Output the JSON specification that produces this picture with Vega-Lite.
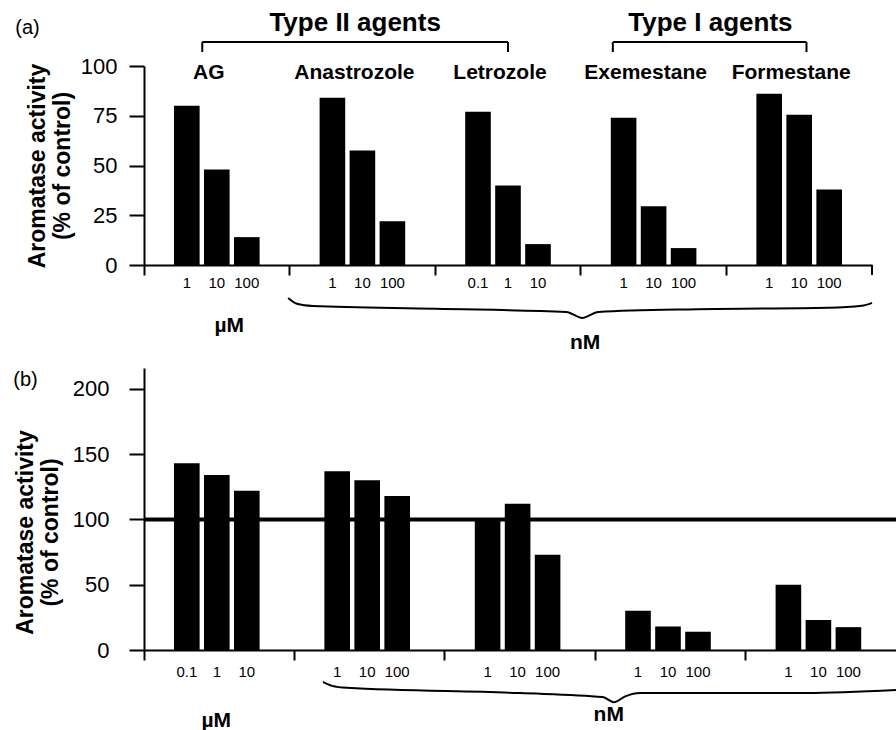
{
  "$schema": "https://vega.github.io/schema/vega-lite/v6.json",
  "background": "white",
  "padding": {"left": 13, "top": 10, "right": 0, "bottom": 0},
  "bounds": "flush",
  "spacing": 103,
  "config": {
    "font": "Liberation Sans",
    "view": {"stroke": null},
    "axis": {"domainColor": "black", "tickColor": "black", "domainWidth": 2, "tickWidth": 2, "labelColor": "black", "titleColor": "black", "grid": false},
    "text": {"color": "black"}
  },
  "vconcat": [
    {
      "title": {"text": "(a)", "anchor": "start", "frame": "bounds", "fontSize": 20, "fontWeight": "normal", "color": "black", "offset": -28, "dx": -11},
      "width": 728,
      "height": 199,
      "resolve": {"scale": {"x": "independent"}, "axis": {"x": "independent"}},
      "encoding": {
        "y": {
          "type": "quantitative",
          "scale": {"domain": [0, 100], "nice": false},
          "axis": {"title": ["Aromatase activity", "(% of control)"], "values": [0, 25, 50, 75, 100], "tickSize": 15, "labelPadding": 12, "labelFontSize": 22, "titleFontSize": 23, "titleFontWeight": "bold", "titlePadding": 6, "titleLineHeight": 25}
        }
      },
      "layer": [
        {
          "encoding": {
            "x": {"field": "agent", "type": "nominal", "sort": ["AG", "Anastrozole", "Letrozole", "Exemestane", "Formestane"], "scale": {"paddingInner": 0, "paddingOuter": 0}, "axis": {"title": null, "labels": false, "bandPosition": 0, "tickSize": 10}}
          },
          "layer": [
            {
              "data": {"values": [
                {"agent": "AG", "idx": 1, "dose": "1", "value": 80},
                {"agent": "AG", "idx": 2, "dose": "10", "value": 48},
                {"agent": "AG", "idx": 3, "dose": "100", "value": 14},
                {"agent": "Anastrozole", "idx": 1, "dose": "1", "value": 84},
                {"agent": "Anastrozole", "idx": 2, "dose": "10", "value": 57.5},
                {"agent": "Anastrozole", "idx": 3, "dose": "100", "value": 22},
                {"agent": "Letrozole", "idx": 1, "dose": "0.1", "value": 77},
                {"agent": "Letrozole", "idx": 2, "dose": "1", "value": 40},
                {"agent": "Letrozole", "idx": 3, "dose": "10", "value": 10.5},
                {"agent": "Exemestane", "idx": 1, "dose": "1", "value": 74},
                {"agent": "Exemestane", "idx": 2, "dose": "10", "value": 29.5},
                {"agent": "Exemestane", "idx": 3, "dose": "100", "value": 8.5},
                {"agent": "Formestane", "idx": 1, "dose": "1", "value": 86},
                {"agent": "Formestane", "idx": 2, "dose": "10", "value": 75.5},
                {"agent": "Formestane", "idx": 3, "dose": "100", "value": 38}
              ]},
              "layer": [
                {
                  "mark": {"type": "bar", "color": "black"},
                  "encoding": {
                    "xOffset": {"field": "idx", "type": "ordinal", "scale": {"paddingInner": 0.146, "paddingOuter": 1.54}},
                    "y": {"field": "value"}
                  }
                },
                {
                  "mark": {"type": "text", "fontSize": 15, "baseline": "middle", "dy": 18},
                  "encoding": {
                    "xOffset": {"field": "idx", "type": "ordinal"},
                    "y": {"datum": 0},
                    "text": {"field": "dose"}
                  }
                }
              ]
            },
            {
              "data": {"values": [
                {"agent": "AG"}, {"agent": "Anastrozole"}, {"agent": "Letrozole"}, {"agent": "Exemestane"}, {"agent": "Formestane"}
              ]},
              "mark": {"type": "text", "fontSize": 21, "fontWeight": "bold", "baseline": "middle", "dx": -8},
              "encoding": {
                "y": {"datum": 96.5},
                "text": {"field": "agent"}
              }
            }
          ]
        },
        {
          "encoding": {
            "x": {"field": "gx", "type": "quantitative", "scale": {"domain": [0, 5], "nice": false, "zero": false}, "axis": null}
          },
          "layer": [
            {
              "data": {"values": [
                {"gx": 0.4, "gx2": 2.5, "y": 112, "y2": 112},
                {"gx": 0.4, "gx2": 0.4, "y": 112, "y2": 107},
                {"gx": 2.5, "gx2": 2.5, "y": 112, "y2": 107},
                {"gx": 3.22, "gx2": 4.55, "y": 112, "y2": 112},
                {"gx": 3.22, "gx2": 3.22, "y": 112, "y2": 107},
                {"gx": 4.55, "gx2": 4.55, "y": 112, "y2": 107},
                {"gx": 5, "gx2": 5, "y": 0, "y2": -5}
              ]},
              "mark": {"type": "rule", "color": "black", "strokeWidth": 2},
              "encoding": {
                "x2": {"field": "gx2"},
                "y": {"field": "y"},
                "y2": {"field": "y2"}
              }
            },
            {
              "data": {"values": [
                {"gx": 1.45, "y": 121.5, "label": "Type II agents"},
                {"gx": 3.89, "y": 121.5, "label": "Type I agents"}
              ]},
              "mark": {"type": "text", "fontSize": 26, "fontWeight": "bold", "baseline": "middle"},
              "encoding": {"y": {"field": "y"}, "text": {"field": "label"}}
            },
            {
              "data": {"values": [
                {"gx": 0.585, "y": -30.7, "label": "µM"},
                {"gx": 3.03, "y": -39, "label": "nM"}
              ]},
              "mark": {"type": "text", "fontSize": 21, "fontWeight": "bold", "baseline": "middle"},
              "encoding": {"y": {"field": "y"}, "text": {"field": "label"}}
            },
            {
              "data": {"values": [
                {"gx": 0.99, "y": -16.6},
                {"gx": 1.05, "y": -19.5},
                {"gx": 1.16, "y": -20.6},
                {"gx": 2.0, "y": -22},
                {"gx": 2.9, "y": -23.6},
                {"gx": 3.01, "y": -26.6},
                {"gx": 3.12, "y": -23.6},
                {"gx": 3.8, "y": -22.2},
                {"gx": 4.7, "y": -21.5},
                {"gx": 4.93, "y": -20.5},
                {"gx": 5.0, "y": -19}
              ]},
              "mark": {"type": "line", "color": "black", "strokeWidth": 2, "interpolate": "monotone"},
              "encoding": {"y": {"field": "y"}}
            }
          ]
        }
      ]
    },
    {
      "title": {"text": "(b)", "anchor": "start", "frame": "bounds", "fontSize": 20, "fontWeight": "normal", "color": "black", "offset": -22, "dx": -1},
      "width": 752,
      "height": 282,
      "resolve": {"scale": {"x": "independent"}, "axis": {"x": "independent"}},
      "encoding": {
        "y": {
          "type": "quantitative",
          "scale": {"domain": [0, 216], "nice": false},
          "axis": {"title": ["Aromatase activity", "(% of control)"], "values": [0, 50, 100, 150, 200], "tickSize": 15, "labelPadding": 20, "labelFontSize": 22, "titleFontSize": 23, "titleFontWeight": "bold", "titlePadding": 10, "titleLineHeight": 25, "titleY": 164}
        }
      },
      "layer": [
        {
          "encoding": {
            "x": {"field": "agent", "type": "nominal", "sort": ["AG", "Anastrozole", "Letrozole", "Exemestane", "Formestane"], "scale": {"paddingInner": 0, "paddingOuter": 0}, "axis": {"title": null, "labels": false, "bandPosition": 0, "tickSize": 10}}
          },
          "layer": [
            {
              "data": {"values": [
                {"agent": "AG", "idx": 1, "dose": "0.1", "value": 143},
                {"agent": "AG", "idx": 2, "dose": "1", "value": 134},
                {"agent": "AG", "idx": 3, "dose": "10", "value": 122},
                {"agent": "Anastrozole", "idx": 1, "dose": "1", "value": 137},
                {"agent": "Anastrozole", "idx": 2, "dose": "10", "value": 130},
                {"agent": "Anastrozole", "idx": 3, "dose": "100", "value": 118},
                {"agent": "Letrozole", "idx": 1, "dose": "1", "value": 99},
                {"agent": "Letrozole", "idx": 2, "dose": "10", "value": 112},
                {"agent": "Letrozole", "idx": 3, "dose": "100", "value": 73},
                {"agent": "Exemestane", "idx": 1, "dose": "1", "value": 30},
                {"agent": "Exemestane", "idx": 2, "dose": "10", "value": 18},
                {"agent": "Exemestane", "idx": 3, "dose": "100", "value": 14},
                {"agent": "Formestane", "idx": 1, "dose": "1", "value": 50},
                {"agent": "Formestane", "idx": 2, "dose": "10", "value": 23},
                {"agent": "Formestane", "idx": 3, "dose": "100", "value": 17.5}
              ]},
              "layer": [
                {
                  "mark": {"type": "bar", "color": "black"},
                  "encoding": {
                    "xOffset": {"field": "idx", "type": "ordinal", "scale": {"paddingInner": 0.15, "paddingOuter": 1.12}},
                    "y": {"field": "value"}
                  }
                },
                {
                  "mark": {"type": "text", "fontSize": 15, "baseline": "middle", "dy": 22},
                  "encoding": {
                    "xOffset": {"field": "idx", "type": "ordinal"},
                    "y": {"datum": 0},
                    "text": {"field": "dose"}
                  }
                }
              ]
            }
          ]
        },
        {
          "encoding": {
            "x": {"field": "gx", "type": "quantitative", "scale": {"domain": [0, 5], "nice": false, "zero": false}, "axis": null}
          },
          "layer": [
            {
              "data": {"values": [{"gx": 0, "gx2": 5, "y": 100}]},
              "mark": {"type": "rule", "color": "black", "strokeWidth": 4},
              "encoding": {"x2": {"field": "gx2"}, "y": {"field": "y"}}
            },
            {
              "data": {"values": [
                {"gx": 0.48, "y": -54, "label": "µM"},
                {"gx": 3.09, "y": -50, "label": "nM"}
              ]},
              "mark": {"type": "text", "fontSize": 21, "fontWeight": "bold", "baseline": "middle"},
              "encoding": {"y": {"field": "y"}, "text": {"field": "label"}}
            },
            {
              "data": {"values": [
                {"gx": 1.19, "y": -24.5},
                {"gx": 1.25, "y": -27.5},
                {"gx": 1.35, "y": -29},
                {"gx": 2.5, "y": -33},
                {"gx": 3.05, "y": -36},
                {"gx": 3.125, "y": -40},
                {"gx": 3.2, "y": -35.5},
                {"gx": 3.3, "y": -33},
                {"gx": 4.4, "y": -32.9},
                {"gx": 5.0, "y": -30.6}
              ]},
              "mark": {"type": "line", "color": "black", "strokeWidth": 2, "interpolate": "monotone"},
              "encoding": {"y": {"field": "y"}}
            }
          ]
        }
      ]
    }
  ]
}
